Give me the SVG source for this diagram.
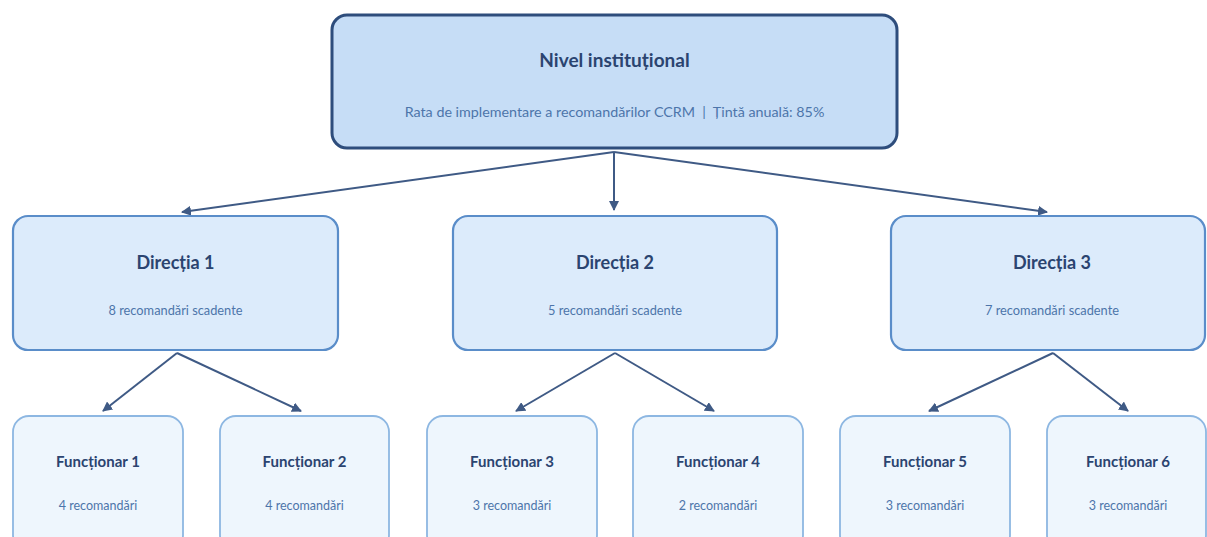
<svg xmlns="http://www.w3.org/2000/svg" width="1207" height="537" viewBox="0 0 1207 537">
<defs>
<style>
.top{fill:#c6ddf6;stroke:#2e4d7c;stroke-width:3}
.dir{fill:#dcebfb;stroke:#5a8dc9;stroke-width:2.2}
.fun{fill:#eef6fd;stroke:#8db7e2;stroke-width:1.8}
.t1{font-family:Lato,"Liberation Sans",sans-serif;font-weight:bold;fill:#2b4470;text-anchor:middle}
.t2{font-family:Lato,"Liberation Sans",sans-serif;fill:#4d75aa;text-anchor:middle}
.c{stroke:#3f5a85;stroke-width:2;fill:none;marker-end:url(#ah)}
</style>
<marker id="ah" viewBox="0 0 10 10" refX="9" refY="5" markerWidth="5" markerHeight="5" orient="auto" markerUnits="strokeWidth">
<path d="M0,0 L10,5 L0,10 z" fill="#3f5a85"/>
</marker>
</defs>
<rect width="1207" height="537" fill="#ffffff"/>
<g id="connectors">
<line class="c" x1="614" y1="152" x2="182" y2="212"/>
<line class="c" x1="614" y1="152" x2="614" y2="210"/>
<line class="c" x1="614" y1="152" x2="1047" y2="212"/>
<line class="c" x1="177" y1="353" x2="103" y2="411"/>
<line class="c" x1="177" y1="353" x2="301" y2="411"/>
<line class="c" x1="615" y1="353" x2="516" y2="411"/>
<line class="c" x1="615" y1="353" x2="714" y2="411"/>
<line class="c" x1="1053" y1="353" x2="929" y2="411"/>
<line class="c" x1="1053" y1="353" x2="1128" y2="411"/>
</g>
<g id="top">
<rect class="top" x="332" y="15" width="565" height="133" rx="15"/>
<text class="t1" x="614.5" y="67" font-size="19">Nivel instituțional</text>
<text class="t2" x="614.5" y="117" font-size="14.3" xml:space="preserve">Rata de implementare a recomandărilor CCRM  |  Țintă anuală: 85%</text>
</g>
<g id="dir1">
<rect class="dir" x="13" y="216" width="325" height="134" rx="15"/>
<text class="t1" x="175.5" y="269" font-size="18">Direcția 1</text>
<text class="t2" x="175.5" y="315" font-size="12.8">8 recomandări scadente</text>
</g>
<g id="dir2">
<rect class="dir" x="453" y="216" width="324" height="134" rx="15"/>
<text class="t1" x="615" y="269" font-size="18">Direcția 2</text>
<text class="t2" x="615" y="315" font-size="12.8">5 recomandări scadente</text>
</g>
<g id="dir3">
<rect class="dir" x="891" y="216" width="314" height="134" rx="15"/>
<text class="t1" x="1052" y="269" font-size="18">Direcția 3</text>
<text class="t2" x="1052" y="315" font-size="12.8">7 recomandări scadente</text>
</g>
<g id="f1">
<rect class="fun" x="13" y="416" width="170" height="135" rx="16"/>
<text class="t1" x="98" y="467" font-size="15">Funcționar 1</text>
<text class="t2" x="98" y="510" font-size="12.5">4 recomandări</text>
</g>
<g id="f2">
<rect class="fun" x="220" y="416" width="169" height="135" rx="16"/>
<text class="t1" x="304.5" y="467" font-size="15">Funcționar 2</text>
<text class="t2" x="304.5" y="510" font-size="12.5">4 recomandări</text>
</g>
<g id="f3">
<rect class="fun" x="427" y="416" width="170" height="135" rx="16"/>
<text class="t1" x="512" y="467" font-size="15">Funcționar 3</text>
<text class="t2" x="512" y="510" font-size="12.5">3 recomandări</text>
</g>
<g id="f4">
<rect class="fun" x="633" y="416" width="170" height="135" rx="16"/>
<text class="t1" x="718" y="467" font-size="15">Funcționar 4</text>
<text class="t2" x="718" y="510" font-size="12.5">2 recomandări</text>
</g>
<g id="f5">
<rect class="fun" x="840" y="416" width="170" height="135" rx="16"/>
<text class="t1" x="925" y="467" font-size="15">Funcționar 5</text>
<text class="t2" x="925" y="510" font-size="12.5">3 recomandări</text>
</g>
<g id="f6">
<rect class="fun" x="1047" y="416" width="159" height="135" rx="16"/>
<text class="t1" x="1128" y="467" font-size="15">Funcționar 6</text>
<text class="t2" x="1128" y="510" font-size="12.5">3 recomandări</text>
</g>
</svg>
